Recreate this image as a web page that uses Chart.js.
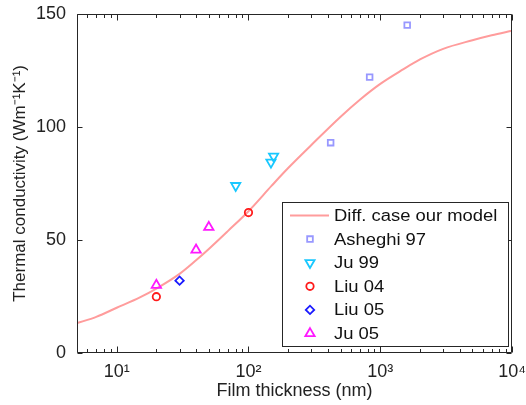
<!DOCTYPE html>
<html>
<head>
<meta charset="utf-8">
<script src="https://cdn.jsdelivr.net/npm/chart.js@4.4.1/dist/chart.umd.min.js"></script>
<style>
    html, body { margin: 0; padding: 0; background: #fff; }
    #wrap { width: 526px; height: 405px; }
</style>
</head>
<body>
<div id="wrap"><canvas id="myChart"></canvas></div>
<script>
// model curve
const modelX = [5, 7, 10, 15, 20, 30, 40, 50, 70, 100, 150, 200, 300, 500, 700, 1000, 1500, 2000, 3000, 5000, 7000, 10000];
const modelY = [13.2, 16, 20, 24.6, 28.5, 35, 41, 46, 54, 62.7, 74, 81.8, 92, 104.5, 112, 119, 125.5, 129.8, 134.5, 138.3, 140.5, 142.5];

// measurements
const asheghiX = [420, 830, 1600];
const asheghiY = [93, 122, 145];
const ju99X = [80, 148, 155];
const ju99Y = [74, 84.3, 87];
const liu04X = [20, 100];
const liu04Y = [24.9, 62.1];
const liu05X = [30];
const liu05Y = [32];
const ju05X = [20, 40, 50];
const ju05Y = [30, 45.6, 55.6];

const xTickValues = [10, 100, 1000, 10000];
const xTickLabels = ['10\u00b9', '10\u00b2', '10\u00b3', '10\u2074'];
const yTickValues = [0, 50, 100, 150];

const FONT = "'Liberation Sans', Arial, sans-serif";
const pts = (xs, ys) => xs.map((v, i) => ({ x: v, y: ys[i] }));

// box + inward ticks on all four sides (matlab look)
const frameTicks = {
    id: 'frameTicks',
    afterDraw(chart) {
        const { ctx, chartArea: a, scales: { x, y } } = chart;
        const L = Math.round(a.left) + 0.5, R = Math.round(a.right) - 0.5;
        const T = Math.round(a.top) + 0.5, B = Math.round(a.bottom) - 0.5;
        ctx.save();
        ctx.strokeStyle = '#262626';
        ctx.lineWidth = 1;
        ctx.beginPath();
        ctx.rect(L, T, R - L, B - T);
        for (let e = 0; e <= 4; e++) {
            for (let m = 1; m <= 9; m++) {
                const v = m * Math.pow(10, e);
                if (v < 5 || v > 10000) continue;
                const px = Math.round(x.getPixelForValue(v)) + 0.5;
                const len = m === 1 ? 6 : 3.5;
                ctx.moveTo(px, B); ctx.lineTo(px, B - len);
                ctx.moveTo(px, T); ctx.lineTo(px, T + len);
            }
        }
        yTickValues.forEach(v => {
            const py = Math.round(y.getPixelForValue(v)) + 0.5;
            ctx.moveTo(L, py); ctx.lineTo(L + 5, py);
            ctx.moveTo(R, py); ctx.lineTo(R - 5, py);
        });
        ctx.stroke();
        ctx.restore();
    }
};

// legend box inside the plot, lower right
const boxLegend = {
    id: 'boxLegend',
    afterDraw(chart) {
        const { ctx, chartArea: a } = chart;
        const left = Math.round(a.right - 230.6) + 0.5;
        const top = Math.round(a.bottom - 150.7) + 0.5;
        const w = 226, h = 144;
        ctx.save();
        ctx.fillStyle = '#fff';
        ctx.fillRect(left, top, w, h);
        ctx.strokeStyle = '#262626';
        ctx.lineWidth = 1;
        ctx.strokeRect(left, top, w, h);
        ctx.font = '16px ' + FONT;
        ctx.textBaseline = 'middle';
        chart.data.datasets.forEach((ds, i) => {
            const cy = top + 13 + i * 23.6;
            if (ds.showLine) {
                ctx.strokeStyle = ds.borderColor;
                ctx.lineWidth = ds.borderWidth;
                ctx.beginPath();
                ctx.moveTo(left + 7.5, cy);
                ctx.lineTo(left + 46.5, cy);
                ctx.stroke();
            } else {
                ctx.strokeStyle = ds.borderColor;
                ctx.fillStyle = 'rgba(0,0,0,0)';
                ctx.lineWidth = ds.pointBorderWidth;
                Chart.helpers.drawPoint(ctx, {
                    pointStyle: ds.pointStyle,
                    radius: ds.pointRadius,
                    rotation: ds.pointRotation || 0,
                    borderWidth: ds.pointBorderWidth
                }, left + 27.5, cy);
            }
            // the original text is a bit wider than Liberation Sans
            ctx.save();
            ctx.translate(left + 51.5, cy + 1);
            ctx.scale(1.15, 1);
            ctx.fillStyle = '#111';
            ctx.fillText(ds.label, 0, 0);
            ctx.restore();
        });
        ctx.restore();
    }
};

const scatterSet = (label, data, color, style, r, rot) => ({
    label: label,
    data: data,
    showLine: false,
    borderColor: color,
    backgroundColor: 'rgba(0,0,0,0)',
    pointStyle: style,
    pointRadius: r,
    pointRotation: rot || 0,
    pointBorderWidth: 1.8,
    pointHoverRadius: r
});

const ctx = document.getElementById('myChart').getContext('2d');
new Chart(ctx, {
    type: 'scatter',
    data: {
        datasets: [
            {
                label: 'Diff. case our model',
                data: pts(modelX, modelY),
                showLine: true,
                borderColor: '#ff9c9c',
                borderWidth: 2,
                pointRadius: 0,
                cubicInterpolationMode: 'monotone',
                order: 10
            },
            scatterSet('Asheghi 97', pts(asheghiX, asheghiY), '#9898ff', 'rect', 4),
            scatterSet('Ju 99', pts(ju99X, ju99Y), '#19c8ff', 'triangle', 5.3, 180),
            scatterSet('Liu 04', pts(liu04X, liu04Y), '#ff1a1a', 'circle', 3.7),
            scatterSet('Liu 05', pts(liu05X, liu05Y), '#1a1aff', 'rectRot', 4.2),
            scatterSet('Ju 05', pts(ju05X, ju05Y), '#ff19ff', 'triangle', 5.4)
        ]
    },
    options: {
        responsive: true,
        maintainAspectRatio: false,
        animation: false,
        layout: { padding: { top: 13, right: 13, left: 0, bottom: 0 } },
        plugins: {
            legend: { display: false },
            tooltip: { enabled: false }
        },
        scales: {
            x: {
                type: 'logarithmic',
                min: 5,
                max: 10000,
                grid: { display: false },
                border: { display: false },
                afterBuildTicks: s => { s.ticks = xTickValues.map(v => ({ value: v })); },
                afterFit: s => { s.height = 52; },
                ticks: {
                    autoSkip: false,
                    maxRotation: 0,
                    padding: 0,
                    color: '#222',
                    font: { family: FONT, size: 18 },
                    callback: v => xTickLabels[xTickValues.indexOf(v)]
                },
                title: {
                    display: true,
                    text: 'Film thickness (nm)',
                    color: '#222',
                    font: { family: FONT, size: 18 },
                    padding: { top: 0, bottom: 3 }
                }
            },
            y: {
                min: 0,
                max: 150,
                grid: { display: false },
                border: { display: false },
                afterBuildTicks: s => { s.ticks = yTickValues.map(v => ({ value: v })); },
                afterFit: s => { s.width = 77; },
                ticks: {
                    padding: 3,
                    color: '#222',
                    font: { family: FONT, size: 18 }
                },
                title: {
                    display: true,
                    text: 'Thermal conductivity (Wm\u207b\u00b9K\u207b\u00b9)',
                    color: '#222',
                    font: { family: FONT, size: 17 },
                    padding: { top: 10, bottom: 0 }
                }
            }
        }
    },
    plugins: [frameTicks, boxLegend]
});
</script>
</body>
</html>
